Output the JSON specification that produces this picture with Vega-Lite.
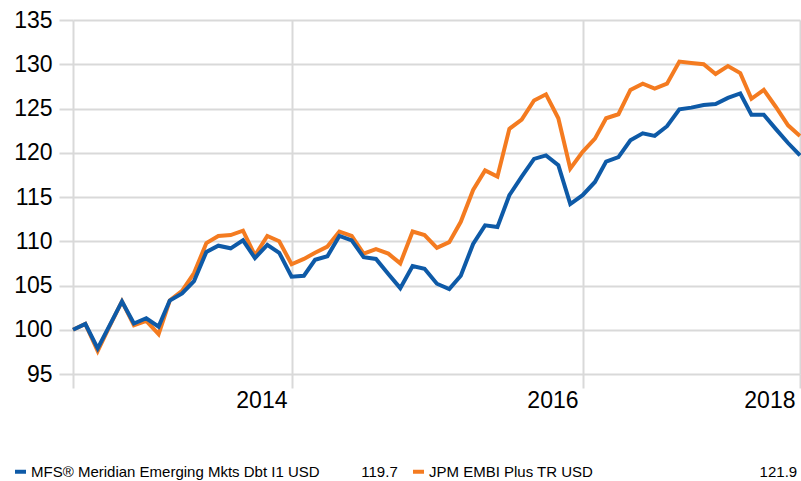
{
  "$schema": "https://vega.github.io/schema/vega-lite/v6.json",
  "autosize": "none",
  "width": 727,
  "height": 354,
  "padding": {"left": 73, "top": 20, "right": 1, "bottom": 107},
  "background": "white",
  "config": {
    "view": {"stroke": null},
    "font": "Liberation Sans",
    "axis": {
      "gridColor": "#d9d9d9", "gridWidth": 2, "gridOpacity": 1,
      "tickColor": "#d9d9d9", "tickWidth": 2, "tickSize": 14,
      "domain": false, "labelColor": "#000000", "labelFontSize": 23,
      "labelFont": "Liberation Sans", "title": null
    }
  },
  "data": {
    "values": [
      {"date": "2013-06-30", "series": "MFS® Meridian Emerging Mkts Dbt I1 USD", "value": 100.0},
      {"date": "2013-07-31", "series": "MFS® Meridian Emerging Mkts Dbt I1 USD", "value": 100.65},
      {"date": "2013-08-31", "series": "MFS® Meridian Emerging Mkts Dbt I1 USD", "value": 97.9},
      {"date": "2013-09-30", "series": "MFS® Meridian Emerging Mkts Dbt I1 USD", "value": 100.5},
      {"date": "2013-10-31", "series": "MFS® Meridian Emerging Mkts Dbt I1 USD", "value": 103.2},
      {"date": "2013-11-30", "series": "MFS® Meridian Emerging Mkts Dbt I1 USD", "value": 100.7},
      {"date": "2013-12-31", "series": "MFS® Meridian Emerging Mkts Dbt I1 USD", "value": 101.3},
      {"date": "2014-01-31", "series": "MFS® Meridian Emerging Mkts Dbt I1 USD", "value": 100.35},
      {"date": "2014-02-28", "series": "MFS® Meridian Emerging Mkts Dbt I1 USD", "value": 103.3},
      {"date": "2014-03-31", "series": "MFS® Meridian Emerging Mkts Dbt I1 USD", "value": 104.1},
      {"date": "2014-04-30", "series": "MFS® Meridian Emerging Mkts Dbt I1 USD", "value": 105.5},
      {"date": "2014-05-31", "series": "MFS® Meridian Emerging Mkts Dbt I1 USD", "value": 108.8},
      {"date": "2014-06-30", "series": "MFS® Meridian Emerging Mkts Dbt I1 USD", "value": 109.5},
      {"date": "2014-07-31", "series": "MFS® Meridian Emerging Mkts Dbt I1 USD", "value": 109.2},
      {"date": "2014-08-31", "series": "MFS® Meridian Emerging Mkts Dbt I1 USD", "value": 110.1},
      {"date": "2014-09-30", "series": "MFS® Meridian Emerging Mkts Dbt I1 USD", "value": 108.1},
      {"date": "2014-10-31", "series": "MFS® Meridian Emerging Mkts Dbt I1 USD", "value": 109.6},
      {"date": "2014-11-30", "series": "MFS® Meridian Emerging Mkts Dbt I1 USD", "value": 108.7},
      {"date": "2014-12-31", "series": "MFS® Meridian Emerging Mkts Dbt I1 USD", "value": 106.0},
      {"date": "2015-01-31", "series": "MFS® Meridian Emerging Mkts Dbt I1 USD", "value": 106.1},
      {"date": "2015-02-28", "series": "MFS® Meridian Emerging Mkts Dbt I1 USD", "value": 107.9},
      {"date": "2015-03-31", "series": "MFS® Meridian Emerging Mkts Dbt I1 USD", "value": 108.3},
      {"date": "2015-04-30", "series": "MFS® Meridian Emerging Mkts Dbt I1 USD", "value": 110.6},
      {"date": "2015-05-31", "series": "MFS® Meridian Emerging Mkts Dbt I1 USD", "value": 110.1},
      {"date": "2015-06-30", "series": "MFS® Meridian Emerging Mkts Dbt I1 USD", "value": 108.2},
      {"date": "2015-07-31", "series": "MFS® Meridian Emerging Mkts Dbt I1 USD", "value": 108.0},
      {"date": "2015-08-31", "series": "MFS® Meridian Emerging Mkts Dbt I1 USD", "value": 106.3},
      {"date": "2015-09-30", "series": "MFS® Meridian Emerging Mkts Dbt I1 USD", "value": 104.7},
      {"date": "2015-10-31", "series": "MFS® Meridian Emerging Mkts Dbt I1 USD", "value": 107.2},
      {"date": "2015-11-30", "series": "MFS® Meridian Emerging Mkts Dbt I1 USD", "value": 106.9},
      {"date": "2015-12-31", "series": "MFS® Meridian Emerging Mkts Dbt I1 USD", "value": 105.2},
      {"date": "2016-01-31", "series": "MFS® Meridian Emerging Mkts Dbt I1 USD", "value": 104.6},
      {"date": "2016-02-29", "series": "MFS® Meridian Emerging Mkts Dbt I1 USD", "value": 106.1},
      {"date": "2016-03-31", "series": "MFS® Meridian Emerging Mkts Dbt I1 USD", "value": 109.7},
      {"date": "2016-04-30", "series": "MFS® Meridian Emerging Mkts Dbt I1 USD", "value": 111.8},
      {"date": "2016-05-31", "series": "MFS® Meridian Emerging Mkts Dbt I1 USD", "value": 111.6},
      {"date": "2016-06-30", "series": "MFS® Meridian Emerging Mkts Dbt I1 USD", "value": 115.2},
      {"date": "2016-07-31", "series": "MFS® Meridian Emerging Mkts Dbt I1 USD", "value": 117.3},
      {"date": "2016-08-31", "series": "MFS® Meridian Emerging Mkts Dbt I1 USD", "value": 119.3},
      {"date": "2016-09-30", "series": "MFS® Meridian Emerging Mkts Dbt I1 USD", "value": 119.7},
      {"date": "2016-10-31", "series": "MFS® Meridian Emerging Mkts Dbt I1 USD", "value": 118.6},
      {"date": "2016-11-30", "series": "MFS® Meridian Emerging Mkts Dbt I1 USD", "value": 114.2},
      {"date": "2016-12-31", "series": "MFS® Meridian Emerging Mkts Dbt I1 USD", "value": 115.2},
      {"date": "2017-01-31", "series": "MFS® Meridian Emerging Mkts Dbt I1 USD", "value": 116.7},
      {"date": "2017-02-28", "series": "MFS® Meridian Emerging Mkts Dbt I1 USD", "value": 119.0},
      {"date": "2017-03-31", "series": "MFS® Meridian Emerging Mkts Dbt I1 USD", "value": 119.5},
      {"date": "2017-04-30", "series": "MFS® Meridian Emerging Mkts Dbt I1 USD", "value": 121.4},
      {"date": "2017-05-31", "series": "MFS® Meridian Emerging Mkts Dbt I1 USD", "value": 122.2},
      {"date": "2017-06-30", "series": "MFS® Meridian Emerging Mkts Dbt I1 USD", "value": 121.9},
      {"date": "2017-07-31", "series": "MFS® Meridian Emerging Mkts Dbt I1 USD", "value": 123.0},
      {"date": "2017-08-31", "series": "MFS® Meridian Emerging Mkts Dbt I1 USD", "value": 124.9},
      {"date": "2017-09-30", "series": "MFS® Meridian Emerging Mkts Dbt I1 USD", "value": 125.1},
      {"date": "2017-10-31", "series": "MFS® Meridian Emerging Mkts Dbt I1 USD", "value": 125.4},
      {"date": "2017-11-30", "series": "MFS® Meridian Emerging Mkts Dbt I1 USD", "value": 125.5},
      {"date": "2017-12-31", "series": "MFS® Meridian Emerging Mkts Dbt I1 USD", "value": 126.2},
      {"date": "2018-01-31", "series": "MFS® Meridian Emerging Mkts Dbt I1 USD", "value": 126.7},
      {"date": "2018-02-28", "series": "MFS® Meridian Emerging Mkts Dbt I1 USD", "value": 124.3},
      {"date": "2018-03-31", "series": "MFS® Meridian Emerging Mkts Dbt I1 USD", "value": 124.3},
      {"date": "2018-04-30", "series": "MFS® Meridian Emerging Mkts Dbt I1 USD", "value": 122.7},
      {"date": "2018-05-31", "series": "MFS® Meridian Emerging Mkts Dbt I1 USD", "value": 121.1},
      {"date": "2018-06-30", "series": "MFS® Meridian Emerging Mkts Dbt I1 USD", "value": 119.7},
      {"date": "2013-06-30", "series": "JPM EMBI Plus TR USD", "value": 100.0},
      {"date": "2013-07-31", "series": "JPM EMBI Plus TR USD", "value": 100.65},
      {"date": "2013-08-31", "series": "JPM EMBI Plus TR USD", "value": 97.6},
      {"date": "2013-09-30", "series": "JPM EMBI Plus TR USD", "value": 100.4},
      {"date": "2013-10-31", "series": "JPM EMBI Plus TR USD", "value": 103.2},
      {"date": "2013-11-30", "series": "JPM EMBI Plus TR USD", "value": 100.5},
      {"date": "2013-12-31", "series": "JPM EMBI Plus TR USD", "value": 101.0},
      {"date": "2014-01-31", "series": "JPM EMBI Plus TR USD", "value": 99.5},
      {"date": "2014-02-28", "series": "JPM EMBI Plus TR USD", "value": 103.3},
      {"date": "2014-03-31", "series": "JPM EMBI Plus TR USD", "value": 104.4},
      {"date": "2014-04-30", "series": "JPM EMBI Plus TR USD", "value": 106.4},
      {"date": "2014-05-31", "series": "JPM EMBI Plus TR USD", "value": 109.8},
      {"date": "2014-06-30", "series": "JPM EMBI Plus TR USD", "value": 110.6},
      {"date": "2014-07-31", "series": "JPM EMBI Plus TR USD", "value": 110.7},
      {"date": "2014-08-31", "series": "JPM EMBI Plus TR USD", "value": 111.2},
      {"date": "2014-09-30", "series": "JPM EMBI Plus TR USD", "value": 108.4},
      {"date": "2014-10-31", "series": "JPM EMBI Plus TR USD", "value": 110.6},
      {"date": "2014-11-30", "series": "JPM EMBI Plus TR USD", "value": 110.0},
      {"date": "2014-12-31", "series": "JPM EMBI Plus TR USD", "value": 107.4},
      {"date": "2015-01-31", "series": "JPM EMBI Plus TR USD", "value": 108.0},
      {"date": "2015-02-28", "series": "JPM EMBI Plus TR USD", "value": 108.7},
      {"date": "2015-03-31", "series": "JPM EMBI Plus TR USD", "value": 109.4},
      {"date": "2015-04-30", "series": "JPM EMBI Plus TR USD", "value": 111.1},
      {"date": "2015-05-31", "series": "JPM EMBI Plus TR USD", "value": 110.6},
      {"date": "2015-06-30", "series": "JPM EMBI Plus TR USD", "value": 108.6},
      {"date": "2015-07-31", "series": "JPM EMBI Plus TR USD", "value": 109.1},
      {"date": "2015-08-31", "series": "JPM EMBI Plus TR USD", "value": 108.6},
      {"date": "2015-09-30", "series": "JPM EMBI Plus TR USD", "value": 107.5},
      {"date": "2015-10-31", "series": "JPM EMBI Plus TR USD", "value": 111.1},
      {"date": "2015-11-30", "series": "JPM EMBI Plus TR USD", "value": 110.7},
      {"date": "2015-12-31", "series": "JPM EMBI Plus TR USD", "value": 109.25},
      {"date": "2016-01-31", "series": "JPM EMBI Plus TR USD", "value": 109.9},
      {"date": "2016-02-29", "series": "JPM EMBI Plus TR USD", "value": 112.2},
      {"date": "2016-03-31", "series": "JPM EMBI Plus TR USD", "value": 115.8},
      {"date": "2016-04-30", "series": "JPM EMBI Plus TR USD", "value": 118.0},
      {"date": "2016-05-31", "series": "JPM EMBI Plus TR USD", "value": 117.3},
      {"date": "2016-06-30", "series": "JPM EMBI Plus TR USD", "value": 122.7},
      {"date": "2016-07-31", "series": "JPM EMBI Plus TR USD", "value": 123.75},
      {"date": "2016-08-31", "series": "JPM EMBI Plus TR USD", "value": 125.9},
      {"date": "2016-09-30", "series": "JPM EMBI Plus TR USD", "value": 126.6},
      {"date": "2016-10-31", "series": "JPM EMBI Plus TR USD", "value": 123.9},
      {"date": "2016-11-30", "series": "JPM EMBI Plus TR USD", "value": 118.2},
      {"date": "2016-12-31", "series": "JPM EMBI Plus TR USD", "value": 120.1},
      {"date": "2017-01-31", "series": "JPM EMBI Plus TR USD", "value": 121.6},
      {"date": "2017-02-28", "series": "JPM EMBI Plus TR USD", "value": 123.9},
      {"date": "2017-03-31", "series": "JPM EMBI Plus TR USD", "value": 124.35},
      {"date": "2017-04-30", "series": "JPM EMBI Plus TR USD", "value": 127.1},
      {"date": "2017-05-31", "series": "JPM EMBI Plus TR USD", "value": 127.8},
      {"date": "2017-06-30", "series": "JPM EMBI Plus TR USD", "value": 127.25},
      {"date": "2017-07-31", "series": "JPM EMBI Plus TR USD", "value": 127.8},
      {"date": "2017-08-31", "series": "JPM EMBI Plus TR USD", "value": 130.3},
      {"date": "2017-09-30", "series": "JPM EMBI Plus TR USD", "value": 130.15},
      {"date": "2017-10-31", "series": "JPM EMBI Plus TR USD", "value": 130.0},
      {"date": "2017-11-30", "series": "JPM EMBI Plus TR USD", "value": 128.9},
      {"date": "2017-12-31", "series": "JPM EMBI Plus TR USD", "value": 129.8},
      {"date": "2018-01-31", "series": "JPM EMBI Plus TR USD", "value": 129.0},
      {"date": "2018-02-28", "series": "JPM EMBI Plus TR USD", "value": 126.1},
      {"date": "2018-03-31", "series": "JPM EMBI Plus TR USD", "value": 127.1},
      {"date": "2018-04-30", "series": "JPM EMBI Plus TR USD", "value": 125.2},
      {"date": "2018-05-31", "series": "JPM EMBI Plus TR USD", "value": 123.1},
      {"date": "2018-06-30", "series": "JPM EMBI Plus TR USD", "value": 121.9}
    ]
  },
  "encoding": {
    "x": {
      "field": "date", "type": "temporal",
      "scale": {"type": "utc", "nice": false},
      "axis": {
        "grid": true,
        "values": [
          {"year": 2013, "month": 6, "date": 30, "utc": true},
          {"year": 2015, "month": 1, "date": 1, "utc": true},
          {"year": 2017, "month": 1, "date": 1, "utc": true},
          {"year": 2018, "month": 6, "date": 30, "utc": true}
        ],
        "labelExpr": "utcyear(datum.value) == 2013 ? '' : (utcmonth(datum.value) == 0 ? '' + (utcyear(datum.value) - 1) : '' + utcyear(datum.value))",
        "labelAlign": "right",
        "labelOffset": -5,
        "labelPadding": 1,
        "labelFlush": false,
        "labelBound": false,
        "labelOverlap": false
      }
    },
    "y": {
      "field": "value", "type": "quantitative",
      "scale": {"domain": [95, 135], "nice": false, "zero": false},
      "axis": {
        "grid": true,
        "values": [95, 100, 105, 110, 115, 120, 125, 130, 135],
        "labelPadding": 7
      }
    },
    "color": {
      "field": "series", "type": "nominal",
      "scale": {
        "domain": ["MFS® Meridian Emerging Mkts Dbt I1 USD", "JPM EMBI Plus TR USD"],
        "range": ["#0e5aa7", "#f47b20"]
      },
      "legend": {
        "orient": "none",
        "direction": "horizontal",
        "columns": 2,
        "legendX": -60,
        "legendY": 444,
        "padding": 0,
        "title": null,
        "symbolType": "stroke",
        "symbolSize": 121,
        "symbolStrokeWidth": 4,
        "labelOffset": 3,
        "labelFontSize": 15,
        "labelFont": "Liberation Sans",
        "labelColor": "#000000",
        "labelLimit": 0,
        "columnPadding": 7,
        "labelExpr": "datum.label == 'JPM EMBI Plus TR USD' ? datum.label + '\u00a0\u00a0\u00a0\u00a0\u00a0\u00a0\u00a0\u00a0\u00a0\u00a0\u00a0\u00a0\u00a0\u00a0\u00a0\u00a0\u00a0\u00a0\u00a0\u00a0\u00a0\u00a0\u00a0\u00a0\u00a0\u00a0\u00a0\u00a0\u00a0\u00a0\u00a0\u00a0\u00a0\u00a0\u00a0\u00a0\u00a0\u00a0\u00a0\u00a0' + '121.9' : datum.label + '\u00a0\u00a0\u00a0\u00a0\u00a0\u00a0\u00a0\u00a0\u00a0\u00a0' + '119.7'"
      }
    }
  },
  "layer": [
    {
      "transform": [{"filter": "datum.series == 'JPM EMBI Plus TR USD'"}],
      "mark": {"type": "line", "strokeWidth": 4}
    },
    {
      "transform": [{"filter": "datum.series != 'JPM EMBI Plus TR USD'"}],
      "mark": {"type": "line", "strokeWidth": 4}
    }
  ]
}
